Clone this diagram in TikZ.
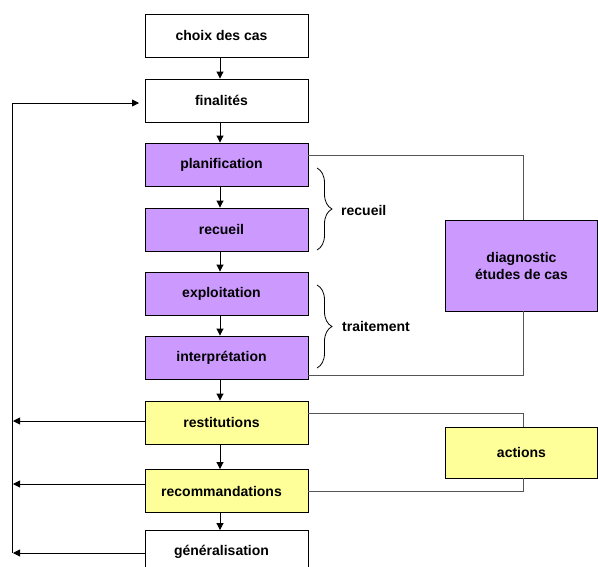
\documentclass[tikz,border=0pt]{standalone}
\usepackage{fontspec}
\setmainfont{Liberation Sans}
\usetikzlibrary{arrows.meta,decorations.pathreplacing}
\definecolor{boxpurple}{HTML}{CC99FF}
\definecolor{boxyellow}{HTML}{FFFF99}
\definecolor{linkgray}{HTML}{555555}
\tikzset{
  stage/.style={draw=black, line width=0.9pt, minimum width=163pt, minimum height=43pt,
    inner sep=0pt, font=\fontsize{14}{17}\selectfont\bfseries},
  % the labels of the main column sit a little left of the box centre
  offset/.style={execute at end node={\hspace*{10pt}}},
  plain/.style={stage, offset, fill=white},
  purple/.style={stage, offset, fill=boxpurple},
  yellow/.style={stage, offset, fill=boxyellow},
  side/.style={stage, minimum width=152pt, align=center},
  flow/.style={line width=0.9pt, -{Triangle[length=7pt,width=7pt]}},
  link/.style={draw=linkgray, line width=1pt},
  bracelabel/.style={font=\fontsize{14}{17}\selectfont\bfseries, anchor=west, inner sep=0pt},
  curly/.style={line width=0.8pt, decorate, decoration={brace, amplitude=15pt}}
}
\begin{document}
\begin{tikzpicture}[x=1pt, y=-1pt]
\useasboundingbox (0,0) rectangle (598,566);
\clip (0,0) rectangle (598,566);

% main column of stages
\node[plain]  (choix)  at (226.5,35.5)  {choix des cas};
\node[plain]  (fin)    at (226.5,100.5) {finalités};
\node[purple] (plan)   at (226.5,164.5) {planification};
\node[purple] (rec)    at (226.5,229.5) {recueil};
\node[purple] (expl)   at (226.5,293.5) {exploitation};
\node[purple] (interp) at (226.5,357.5) {interprétation};
\node[yellow] (restit) at (226.5,422.5) {restitutions};
\node[yellow] (recom)  at (226.5,491)   {recommandations};
\node[plain]  (gen)    at (226.5,552)   {généralisation};

% side boxes
\node[side, fill=boxpurple, minimum height=91pt] (diag) at (521.5,265.5) {diagnostic\\études de cas};
\node[side, fill=boxyellow, minimum height=51pt] (act) at (521.5,452.5) {actions};

% downward flow, drawn on the axis x = 220
\foreach \a/\b in {choix/fin, fin/plan, plan/rec, rec/expl, expl/interp,
                   interp/restit, restit/recom, recom/gen}
  \draw[flow] (\a.south -| 220,0) -- (\b.north -| 220,0);

% feedback loop on the left
\coordinate (topL) at (12,103);
\coordinate (botL) at (12,553);
\coordinate (finin) at (139,103);
\draw[line width=0.9pt] (topL) -- (botL);
\draw[flow] (topL) -- (finin);
\draw[flow] (restit.west |- 0,421) -- (13,421);
\draw[flow] (recom.west |- 0,484) -- (13,484);
\draw[flow] (gen.west |- 0,553) -- (13,553);

% links to the side boxes
\draw[link] (plan.east |- 0,155) -| (diag.north -| 523,0);
\draw[link] (interp.east |- 0,375) -| (diag.south -| 523,0);
\draw[link] (restit.east |- 0,413) -| (act.north -| 523,0);
\draw[link] (recom.east |- 0,491) -| (act.south -| 523,0);

% braces
\coordinate (b1t) at (317,168);
\coordinate (b1b) at (317,250);
\coordinate (b2t) at (317,285);
\coordinate (b2b) at (317,368);
\draw[curly] (b1t) -- (b1b);
\draw[curly] (b2t) -- (b2b);
\node[bracelabel] (lrec) at (341,210) {recueil};
\node[bracelabel] (ltrt) at (342,326) {traitement};
\end{tikzpicture}
\end{document}
